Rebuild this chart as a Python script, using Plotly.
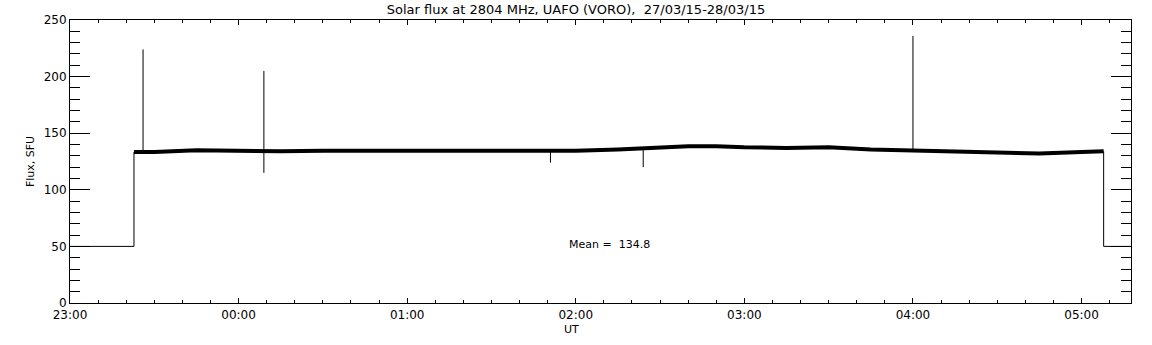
import plotly.graph_objects as go

DAY1 = "2015-03-27 "
DAY2 = "2015-03-28 "

# Smoothed solar flux band (UT, SFU)
band_times = [DAY1 + "23:22:46", DAY1 + "23:30", DAY1 + "23:45", DAY2 + "00:00", DAY2 + "00:15",
              DAY2 + "00:30", DAY2 + "00:45", DAY2 + "01:00", DAY2 + "01:15", DAY2 + "01:30",
              DAY2 + "01:45", DAY2 + "02:00", DAY2 + "02:15", DAY2 + "02:30", DAY2 + "02:40",
              DAY2 + "02:50", DAY2 + "03:00", DAY2 + "03:15", DAY2 + "03:30", DAY2 + "03:45",
              DAY2 + "04:00", DAY2 + "04:15", DAY2 + "04:30", DAY2 + "04:45", DAY2 + "05:00",
              DAY2 + "05:07:52"]
band_flux = [133.5, 133.5, 135.0, 134.5, 134.0,
             134.5, 134.5, 134.5, 134.5, 134.0,
             134.0, 134.5, 135.5, 137.0, 138.5,
             138.5, 137.5, 137.0, 137.5, 135.5,
             134.5, 134.0, 132.5, 132.0, 133.5,
             134.0]

# Off-sun level before/after observations
step_left_times = [DAY1 + "23:00", DAY1 + "23:22:46", DAY1 + "23:22:46"]
step_left_flux = [50, 50, 133.5]
step_right_times = [DAY2 + "05:07:52", DAY2 + "05:07:52", DAY2 + "05:20"]
step_right_flux = [134.0, 50, 50]

# Spikes (bursts / interference)
spike_times = [DAY1 + "23:26", DAY2 + "00:09", DAY2 + "01:51", DAY2 + "02:24", DAY2 + "04:00"]
spike_low = [133, 115, 124, 120, 134]
spike_high = [224, 205, 134, 136, 236]

mean_text = "Mean =  134.8"
title_text = "Solar flux at 2804 MHz, UAFO (VORO),  27/03/15-28/03/15"
x_label = "UT"
y_label = "Flux, SFU"

thin_x, thin_y = [], []
for xs, ys in ((step_left_times, step_left_flux), (step_right_times, step_right_flux)):
    thin_x += xs + [None]
    thin_y += ys + [None]
for t, lo, hi in zip(spike_times, spike_low, spike_high):
    thin_x += [t, t, None]
    thin_y += [lo, hi, None]

FONT = "DejaVu Sans"
fig = go.Figure()
fig.add_trace(go.Scatter(x=band_times, y=band_flux, mode="lines",
                         line=dict(color="black", width=4), showlegend=False, hoverinfo="skip"))
fig.add_trace(go.Scatter(x=thin_x, y=thin_y, mode="lines",
                         line=dict(color="black", width=1), showlegend=False, hoverinfo="skip"))

fig.add_annotation(text=mean_text, xref="paper", yref="y", x=0.468, y=52,
                   xanchor="left", yanchor="middle", showarrow=False,
                   font=dict(family=FONT, size=11, color="black"))
fig.add_annotation(text=x_label, xref="paper", yref="paper", x=0.473, y=-0.093,
                   xanchor="center", yanchor="middle", showarrow=False,
                   font=dict(family=FONT, size=11, color="black"))

fig.update_layout(
    width=1152, height=345,
    margin=dict(l=70, r=21, t=20, b=42, autoexpand=False),
    paper_bgcolor="white", plot_bgcolor="white",
    font=dict(family=FONT, size=12, color="black"),
    title=dict(text=title_text, x=0.5, xanchor="center", y=0.987, yanchor="top",
               font=dict(family=FONT, size=13, color="black")),
)
fig.update_xaxes(
    type="date", range=[DAY1 + "23:00", DAY2 + "05:17:36"],
    tickformat="%H:%M", dtick=3600000, tick0=DAY1 + "23:00",
    ticks="inside", ticklen=5, tickcolor="black", tickwidth=1,
    ticklabelstandoff=1, tickfont=dict(family=FONT, size=12),
    minor=dict(dtick=600000, ticks="inside", ticklen=3, tickcolor="black"),
    showline=True, linecolor="black", linewidth=1, mirror="ticks",
    showgrid=False, zeroline=False, automargin=False,
)
fig.update_yaxes(
    range=[0, 250], dtick=50, tick0=0,
    ticks="inside", ticklen=20, tickcolor="black", tickwidth=1,
    tickfont=dict(family=FONT, size=12),
    minor=dict(dtick=10, ticks="inside", ticklen=10, tickcolor="black"),
    showline=True, linecolor="black", linewidth=1, mirror="ticks",
    showgrid=False, zeroline=False, automargin=False,
    title=dict(text=y_label, standoff=6, font=dict(family=FONT, size=11)),
)

fig.write_html("out.html", config={"displayModeBar": False},
               post_script="document.body.style.margin='0px';")
